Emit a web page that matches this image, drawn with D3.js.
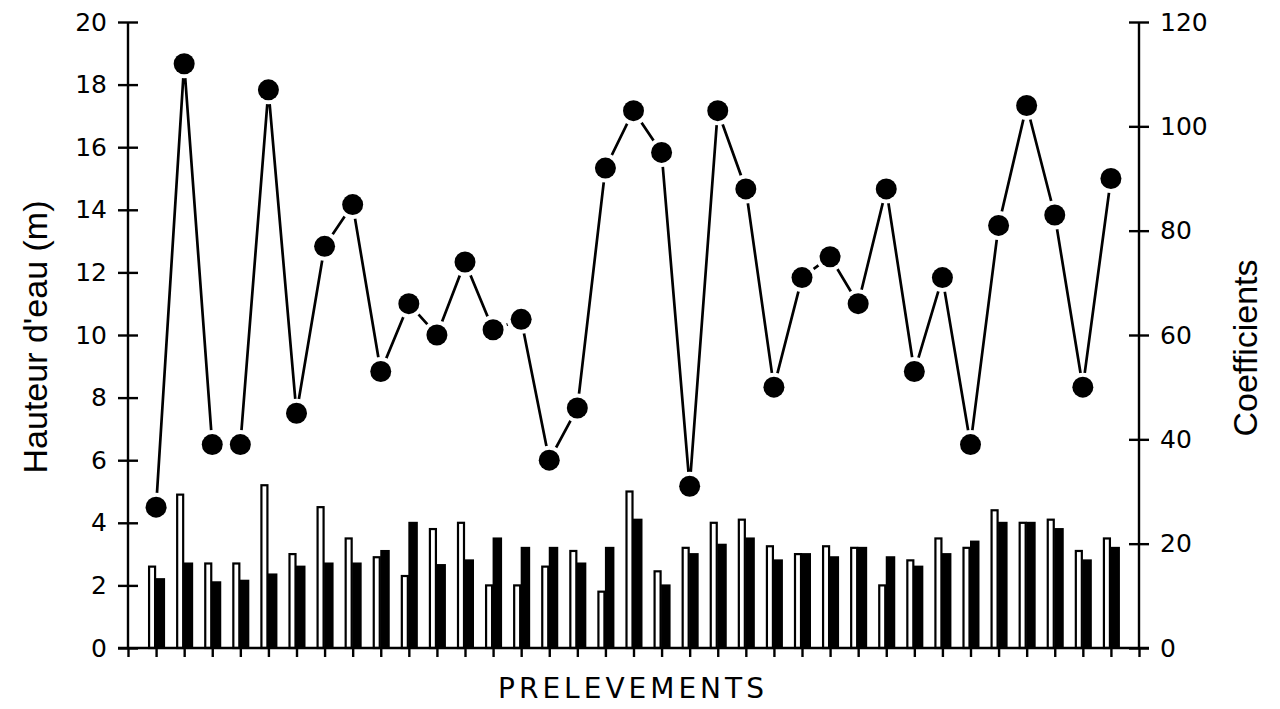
<!DOCTYPE html>
<html>
<head>
<meta charset="utf-8">
<script src="https://cdn.jsdelivr.net/npm/d3@7/dist/d3.min.js"></script>
<style>
  html, body { margin: 0; padding: 0; background: #fff; }
  svg { display: block; }
</style>
</head>
<body>
<svg id="chart" width="1280" height="709"></svg>
<script>
// ---- data ----
const samples = d3.range(35);                 // PRELEVEMENTS 1..35
const coefficients = [27,112,39,39,107,45,77,85,53,66,60,74,61,63,36,46,92,103,95,31,103,88,50,71,75,66,88,53,71,39,81,104,83,50,90];
const hauteurWhite = [2.6,4.9,2.7,2.7,5.2,3.0,4.5,3.5,2.9,2.3,3.8,4.0,2.0,2.0,2.6,3.1,1.8,5.0,2.45,3.2,4.0,4.1,3.25,3.0,3.25,3.2,2.0,2.8,3.5,3.2,4.4,4.0,4.1,3.1,3.5];
const hauteurBlack = [2.2,2.7,2.1,2.15,2.35,2.6,2.7,2.7,3.1,4.0,2.65,2.8,3.5,3.2,3.2,2.7,3.2,4.1,2.0,3.0,3.3,3.5,2.8,3.0,2.9,3.2,2.9,2.6,3.0,3.4,4.0,4.0,3.8,2.8,3.2];
const leftTicks = [0,2,4,6,8,10,12,14,16,18,20];
const rightTicks = [0,20,40,60,80,100,120];
const xLabel = "PRELEVEMENTS";
const yLeftLabel = "Hauteur d'eau (m)";
const yRightLabel = "Coefficients";

// ---- layout ----
const svg = d3.select("#chart");
const x = d3.scaleLinear().domain([-1, 35]).range([128, 1139]);
const yL = d3.scaleLinear().domain([0, 20]).range([648, 22]);
const yR = d3.scaleLinear().domain([0, 120]).range([648, 22]);
const tickFont = "'DejaVu Sans', sans-serif";
const titleFont = "'Liberation Sans', Arial, sans-serif";

// bars
const g = svg.append("g");
g.selectAll("rect.white").data(samples).join("rect")
  .attr("class", "white")
  .attr("x", i => x(i) - 7)
  .attr("width", 6)
  .attr("y", i => yL(hauteurWhite[i]))
  .attr("height", i => yL(0) - yL(hauteurWhite[i]))
  .attr("fill", "#fff").attr("stroke", "#000").attr("stroke-width", 2.2);
g.selectAll("rect.black").data(samples).join("rect")
  .attr("class", "black")
  .attr("x", i => x(i) - 0.5)
  .attr("width", 9.5)
  .attr("y", i => yL(hauteurBlack[i]) - 1)
  .attr("height", i => yL(0) - yL(hauteurBlack[i]) + 1)
  .attr("fill", "#000");

// x axis (ticks only, no labels)
const xAxis = d3.axisBottom(x).tickValues(d3.range(-1, 36)).tickSize(9).tickFormat("");
const gx = svg.append("g").attr("transform", `translate(0,${yL(0)})`).call(xAxis);
gx.select(".domain").attr("d", `M118,0H1149`).attr("stroke-width", 2.4);
gx.selectAll(".tick line").attr("stroke-width", 2.4);

// left axis
const yAxisL = d3.axisLeft(yL).tickValues(leftTicks).tickSize(10).tickPadding(11).tickFormat(d3.format("d"));
const gl = svg.append("g").attr("transform", `translate(${x(-1)},0)`).call(yAxisL);
gl.select(".domain").attr("d", `M0,${yL(20)}V${yL(0)}`).attr("stroke-width", 2.4);
gl.selectAll(".tick line").attr("x2", -10).attr("x1", 10).attr("stroke-width", 2.4);
gl.selectAll(".tick text").attr("font-family", tickFont).attr("font-size", 25).attr("fill", "#000");

// right axis
const yAxisR = d3.axisRight(yR).tickValues(rightTicks).tickSize(10).tickPadding(11).tickFormat(d3.format("d"));
const gr = svg.append("g").attr("transform", `translate(${x(35)},0)`).call(yAxisR);
gr.select(".domain").attr("d", `M0,${yR(120)}V${yR(0)}`).attr("stroke-width", 2.4);
gr.selectAll(".tick line").attr("x1", -10).attr("x2", 10).attr("stroke-width", 2.4);
gr.selectAll(".tick text").attr("font-family", tickFont).attr("font-size", 25).attr("fill", "#000");

// coefficient line
const line = d3.line().x(i => x(i)).y(i => yR(coefficients[i]));
svg.append("path").datum(samples).attr("d", line)
  .attr("fill", "none").attr("stroke", "#000").attr("stroke-width", 2.7);
svg.append("g").selectAll("circle.halo").data(samples).join("circle")
  .attr("cx", i => x(i)).attr("cy", i => yR(coefficients[i])).attr("r", 14.5).attr("fill", "#fff");
svg.append("g").selectAll("circle.pt").data(samples).join("circle")
  .attr("cx", i => x(i)).attr("cy", i => yR(coefficients[i])).attr("r", 10.5).attr("fill", "#000");

// titles
svg.append("text").attr("transform", `translate(47,337) rotate(-90)`)
  .attr("text-anchor", "middle").attr("font-family", titleFont).attr("font-size", 34)
  .text(yLeftLabel);
svg.append("text").attr("transform", `translate(1257,348) rotate(-90)`)
  .attr("text-anchor", "middle").attr("font-family", titleFont).attr("font-size", 34)
  .text(yRightLabel);
svg.append("text").attr("x", 633).attr("y", 698)
  .attr("text-anchor", "middle").attr("font-family", tickFont).attr("font-size", 28)
  .attr("letter-spacing", 4).text(xLabel);
</script>
</body>
</html>
